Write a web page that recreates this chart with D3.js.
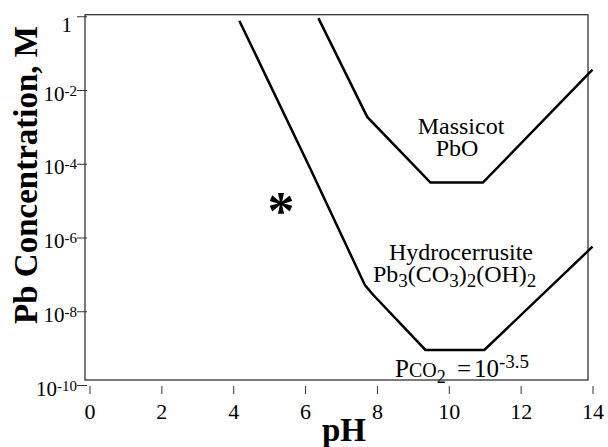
<!DOCTYPE html>
<html>
<head>
<meta charset="utf-8">
<script src="https://cdn.jsdelivr.net/npm/d3@7"></script>
<style>
  body { margin: 0; background: #fff; }
  text { font-family: "Liberation Serif", "Times New Roman", serif; fill: #000; }
</style>
</head>
<body>
<div id="container"></div>
<script>
// values
let phTicks = [0, 2, 4, 6, 8, 10, 12, 14];
let concTicks = [1, 1e-2, 1e-4, 1e-6, 1e-8, 1e-10];

// hydrocerrusite line, Pco2 = 10^-3.5
let hydroPH = [4.17, 6.14, 7.67, 7.90, 9.35, 10.99, 14.0];
let hydroLogC = [-0.12, -4.12, -7.30, -7.56, -9.05, -9.05, -6.25];

// massicot line
let massPH = [6.37, 7.73, 9.49, 10.95, 14.0];
let massLogC = [-0.05, -2.73, -4.51, -4.51, -1.45];

// the asterisk marker
let starPH = 5.33;
let starLogC = -5.1;

let w = 608;
let h = 447;

let viz = d3.select("#container")
  .append("svg")
    .attr("width", w)
    .attr("height", h)
;

let xScale = d3.scaleLinear().domain([0, 14]).range([89.5, 592.5]);
let yScale = d3.scaleLog().domain([1e-10, 1]).range([385, 16.25]);

// frame
viz.append("rect")
  .attr("x", 85)
  .attr("y", 14.7)
  .attr("width", 503)
  .attr("height", 365.3)
  .attr("fill", "none")
  .attr("stroke", "#222")
  .attr("stroke-width", 1.2)
;

// x axis: ticks hang under the frame
let xAxis = d3.axisBottom(xScale).tickValues(phTicks).tickSize(8).tickPadding(9);
let xAxisGroup = viz.append("g")
    .attr("transform", "translate(0,386)")
    .call(xAxis)
;
xAxisGroup.select(".domain").remove();
xAxisGroup.selectAll("line").attr("stroke", "#333");
xAxisGroup.selectAll("text")
  .style("font-family", '"Liberation Serif", serif')
  .style("font-size", "22px")
  .attr("fill", "#000")
;

// y axis: ticks cross the frame line
let yAxis = d3.axisLeft(yScale).tickValues(concTicks).tickSize(10).tickPadding(0).tickFormat("");
let yAxisGroup = viz.append("g")
    .attr("transform", "translate(87,0)")
    .call(yAxis)
;
yAxisGroup.select(".domain").remove();
yAxisGroup.selectAll("line").attr("stroke", "#333");
yAxisGroup.selectAll(".tick text").each(function(d){
  let t = d3.select(this)
    .attr("x", -10)
    .attr("dy", null)
    .attr("y", 10)
    .attr("text-anchor", "end")
    .attr("fill", "#000")
    .style("font-family", '"Liberation Serif", serif')
    .style("font-size", "21px")
  ;
  let e = Math.round(Math.log10(d));
  if (e === 0) {
    t.attr("x", -15).attr("y", 15).text("1");
  } else {
    t.append("tspan").text("10");
    t.append("tspan").attr("dy", -5).style("font-size", "15px").text(String(e));
  }
});

// the two boundary lines
let lineMaker = d3.line()
  .x(function(d){ return xScale(d[0]); })
  .y(function(d){ return yScale(Math.pow(10, d[1])); })
;

let hydroData = hydroPH.map(function(p, i){ return [p, hydroLogC[i]]; });
let massData = massPH.map(function(p, i){ return [p, massLogC[i]]; });

viz.append("path")
  .datum(hydroData)
  .attr("d", lineMaker)
  .attr("fill", "none")
  .attr("stroke", "#000")
  .attr("stroke-width", 2.5)
;
viz.append("path")
  .datum(massData)
  .attr("d", lineMaker)
  .attr("fill", "none")
  .attr("stroke", "#000")
  .attr("stroke-width", 2.5)
;

// asterisk
viz.append("text")
  .attr("x", xScale(starPH))
  .attr("y", yScale(Math.pow(10, starLogC)) + 25)
  .attr("text-anchor", "middle")
  .style("font-size", "54px")
  .style("font-weight", "bold")
  .text("*")
;

// region labels
viz.append("text")
  .attr("x", 461).attr("y", 134)
  .attr("text-anchor", "middle")
  .style("font-size", "24px")
  .text("Massicot");
viz.append("text")
  .attr("x", 457).attr("y", 156)
  .attr("text-anchor", "middle")
  .style("font-size", "24px")
  .text("PbO");

viz.append("text")
  .attr("x", 461).attr("y", 260)
  .attr("text-anchor", "middle")
  .style("font-size", "24px")
  .text("Hydrocerrusite");

let formula = viz.append("text")
  .attr("x", 373).attr("y", 282)
  .style("font-size", "24px");
formula.append("tspan").text("Pb");
formula.append("tspan").attr("dy", 5).style("font-size", "19px").text("3");
formula.append("tspan").attr("dy", -5).text("(CO");
formula.append("tspan").attr("dy", 5).style("font-size", "19px").text("3");
formula.append("tspan").attr("dy", -5).text(")");
formula.append("tspan").attr("dy", 5).style("font-size", "19px").text("2");
formula.append("tspan").attr("dy", -5).text("(OH)");
formula.append("tspan").attr("dy", 5).style("font-size", "19px").text("2");

let pco2 = viz.append("text")
  .attr("x", 395).attr("y", 377)
  .style("font-size", "25px");
pco2.append("tspan").text("P");
pco2.append("tspan").style("font-size", "20px").text("CO");
pco2.append("tspan").attr("dy", 6).style("font-size", "18px").text("2");
pco2.append("tspan").attr("dy", -6).attr("x", 457).text("=");
pco2.append("tspan").attr("x", 474).text("10");
pco2.append("tspan").attr("dy", -9).style("font-size", "19px").text("-3.5");

// axis titles
viz.append("text")
  .attr("x", 344).attr("y", 441)
  .attr("text-anchor", "middle")
  .style("font-size", "33px")
  .style("font-weight", "bold")
  .text("pH");

viz.append("text")
  .attr("transform", "translate(37,175) rotate(-90)")
  .attr("text-anchor", "middle")
  .style("font-size", "33px")
  .style("font-weight", "bold")
  .text("Pb Concentration, M");
</script>
</body>
</html>
